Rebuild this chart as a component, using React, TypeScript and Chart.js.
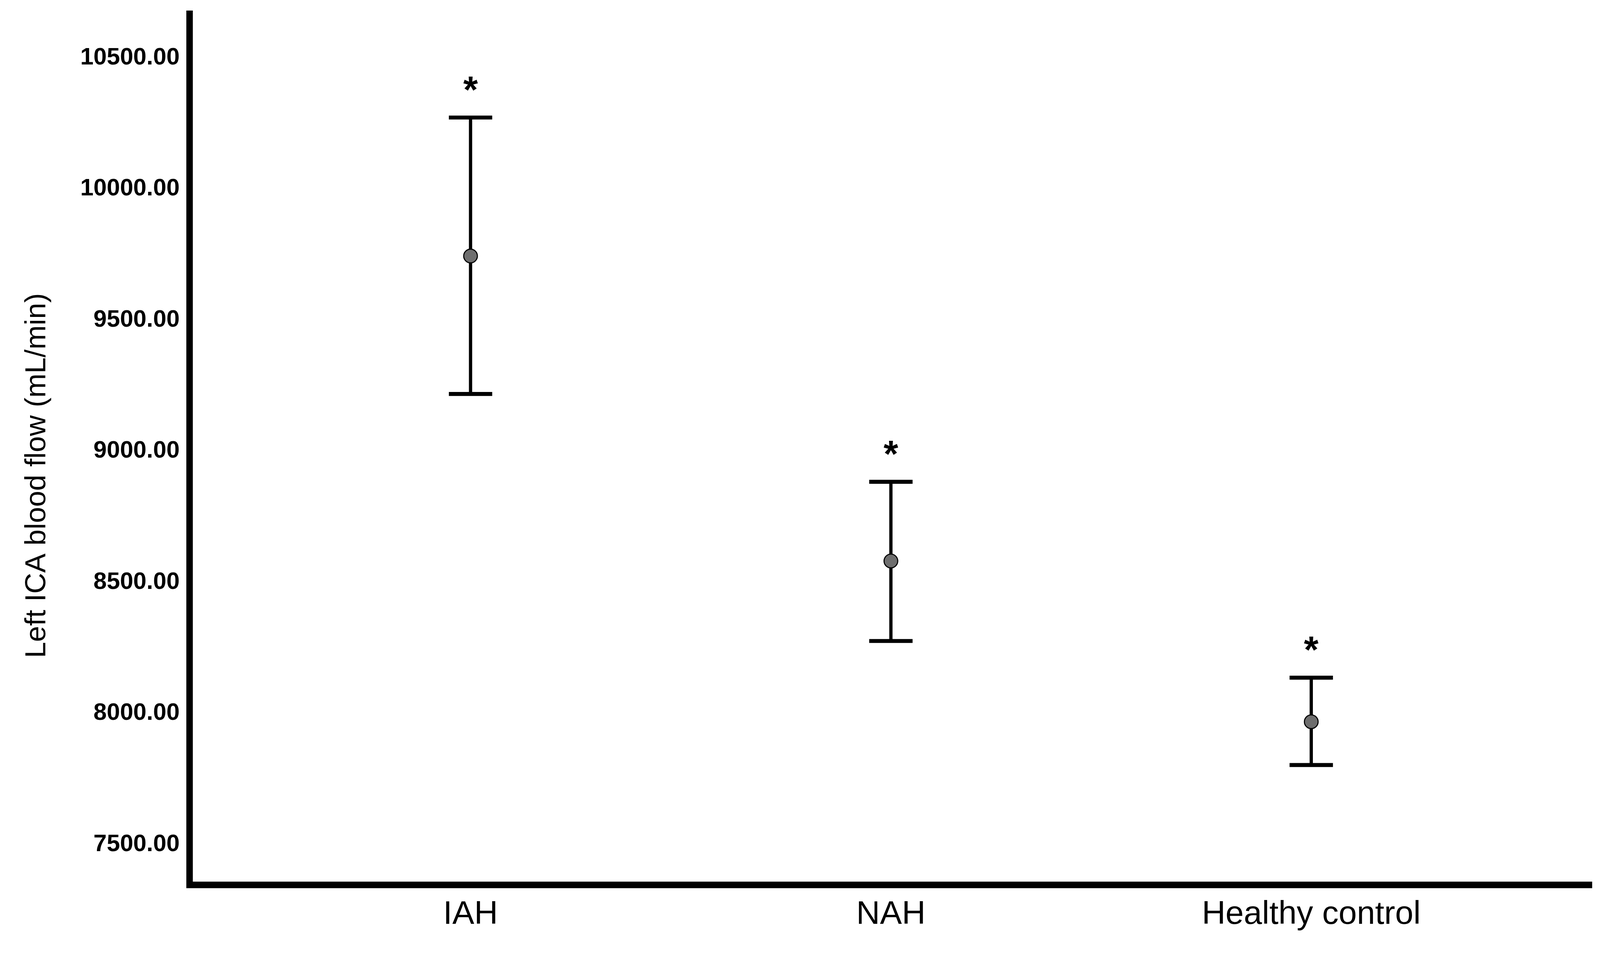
import React, { useEffect, useRef, useState } from 'react';
import { Chart, registerables } from 'chart.js';

Chart.register(...registerables);

// ---- data ----
const groups = ['IAH', 'NAH', 'Healthy control'];
const means = [9744, 8581, 7968];
const upperCI = [10272, 8883, 8136];
const lowerCI = [9218, 8276, 7803];
const significance = ['*', '*', '*'];
const yTickValues = [7500, 8000, 8500, 9000, 9500, 10000, 10500];
const yTitle = 'Left ICA blood flow (mL/min)';
const yMin = 7346.5;
const yMax = 10668;
const xMin = 0.332;
const xMax = 3.668;

// ---- reference layout (pixels at 4427 x 2454) ----
const REF_W = 4427;
const REF_H = 2454;

function makePlugin(sx: number, sy: number) {
  const s = Math.min(sx, sy);
  return {
    id: 'errorBars',
    beforeDatasetsDraw(chart: any) {
      const { ctx, scales } = chart;
      const x = scales.x;
      const y = scales.y;
      ctx.save();
      ctx.strokeStyle = '#000';
      ctx.lineCap = 'butt';
      groups.forEach((_, i) => {
        const px = x.getPixelForValue(i + 1);
        const top = y.getPixelForValue(upperCI[i]);
        const bot = y.getPixelForValue(lowerCI[i]);
        const half = 60 * sx;
        ctx.lineWidth = 9 * s;
        ctx.beginPath();
        ctx.moveTo(px, top);
        ctx.lineTo(px, bot);
        ctx.stroke();
        ctx.lineWidth = 11 * s;
        ctx.beginPath();
        ctx.moveTo(px - half, top);
        ctx.lineTo(px + half, top);
        ctx.moveTo(px - half, bot);
        ctx.lineTo(px + half, bot);
        ctx.stroke();
      });
      ctx.restore();
    },
    afterDatasetsDraw(chart: any) {
      const { ctx, scales } = chart;
      const x = scales.x;
      const y = scales.y;
      ctx.save();
      ctx.fillStyle = '#000';
      ctx.font = `bold ${Math.round(104 * s)}px "Liberation Sans", Arial, sans-serif`;
      ctx.textAlign = 'center';
      ctx.textBaseline = 'alphabetic';
      significance.forEach((str, i) => {
        const px = x.getPixelForValue(i + 1);
        const top = y.getPixelForValue(upperCI[i]);
        const m = ctx.measureText(str);
        const centerY = top - 87 * sy;
        const base = centerY + (m.actualBoundingBoxAscent - m.actualBoundingBoxDescent) / 2;
        ctx.fillText(str, px, base);
      });
      ctx.restore();
    },
    afterDraw(chart: any) {
      const { ctx } = chart;
      ctx.save();
      ctx.fillStyle = '#000';
      ctx.font = `${Math.round(80 * s)}px "Liberation Sans", Arial, sans-serif`;
      ctx.textAlign = 'center';
      ctx.textBaseline = 'middle';
      ctx.translate(103 * sx, 1217 * sy);
      ctx.rotate(-Math.PI / 2);
      ctx.fillText(yTitle, 0, 0);
      ctx.restore();
    },
  };
}

export default function App() {
  const canvasRef = useRef<HTMLCanvasElement | null>(null);
  const [size] = useState(() => ({
    w: (typeof window !== 'undefined' && window.innerWidth) || REF_W,
    h: (typeof window !== 'undefined' && window.innerHeight) || REF_H,
  }));

  useEffect(() => {
    document.body.style.margin = '0';
    document.body.style.overflow = 'hidden';
    const canvas = canvasRef.current;
    if (!canvas) return;
    const sx = size.w / REF_W;
    const sy = size.h / REF_H;
    const s = Math.min(sx, sy);
    const chart = new Chart(canvas, {
      type: 'scatter',
      data: {
        datasets: [
          {
            data: means.map((m, i) => ({ x: i + 1, y: m })),
            pointRadius: 19 * s,
            pointHoverRadius: 19 * s,
            pointBackgroundColor: '#6e6e6e',
            pointBorderColor: '#000',
            pointBorderWidth: 3 * s,
            showLine: false,
          },
        ],
      },
      options: {
        animation: false,
        responsive: false,
        devicePixelRatio: 1,
        events: [],
        layout: { padding: { top: 35 * sy, right: 22 * sx, left: 0, bottom: 0 } },
        plugins: {
          legend: { display: false },
          tooltip: { enabled: false },
        },
        scales: {
          x: {
            type: 'linear',
            min: xMin,
            max: xMax,
            grid: { display: false, drawTicks: false },
            border: { display: true, color: '#000', width: 18 * s },
            afterBuildTicks: (scale: any) => {
              scale.ticks = groups.map((_, i) => ({ value: i + 1 }));
            },
            afterFit: (scale: any) => {
              scale.height = 190 * sy;
              scale.paddingLeft = 0;
              scale.paddingRight = 0;
            },
            ticks: {
              autoSkip: false,
              maxRotation: 0,
              padding: 26 * sy,
              color: '#000',
              font: { family: '"Liberation Sans", Arial, sans-serif', size: Math.round(91 * s) },
              callback: (v: any) => groups[Math.round(Number(v)) - 1] ?? '',
            },
          },
          y: {
            type: 'linear',
            min: yMin,
            max: yMax,
            grid: { display: false, drawTicks: false },
            border: { display: true, color: '#000', width: 18 * s },
            afterBuildTicks: (scale: any) => {
              scale.ticks = yTickValues.map((v) => ({ value: v }));
            },
            afterFit: (scale: any) => {
              scale.width = 525 * sx;
              scale.paddingTop = 0;
              scale.paddingBottom = 0;
            },
            ticks: {
              autoSkip: false,
              padding: 28 * sx,
              color: '#000',
              font: {
                family: '"Liberation Sans", Arial, sans-serif',
                size: Math.round(66 * s),
                weight: 'bold',
              },
              callback: (v: any) => Number(v).toFixed(2),
            },
          },
        },
      },
      plugins: [makePlugin(sx, sy)],
    } as any);
    return () => {
      chart.destroy();
    };
  }, [size]);

  return (
    <div style={{ width: size.w, height: size.h, background: '#fff', overflow: 'hidden' }}>
      <canvas
        ref={canvasRef}
        width={size.w}
        height={size.h}
        style={{ display: 'block', width: size.w, height: size.h }}
      />
    </div>
  );
}
